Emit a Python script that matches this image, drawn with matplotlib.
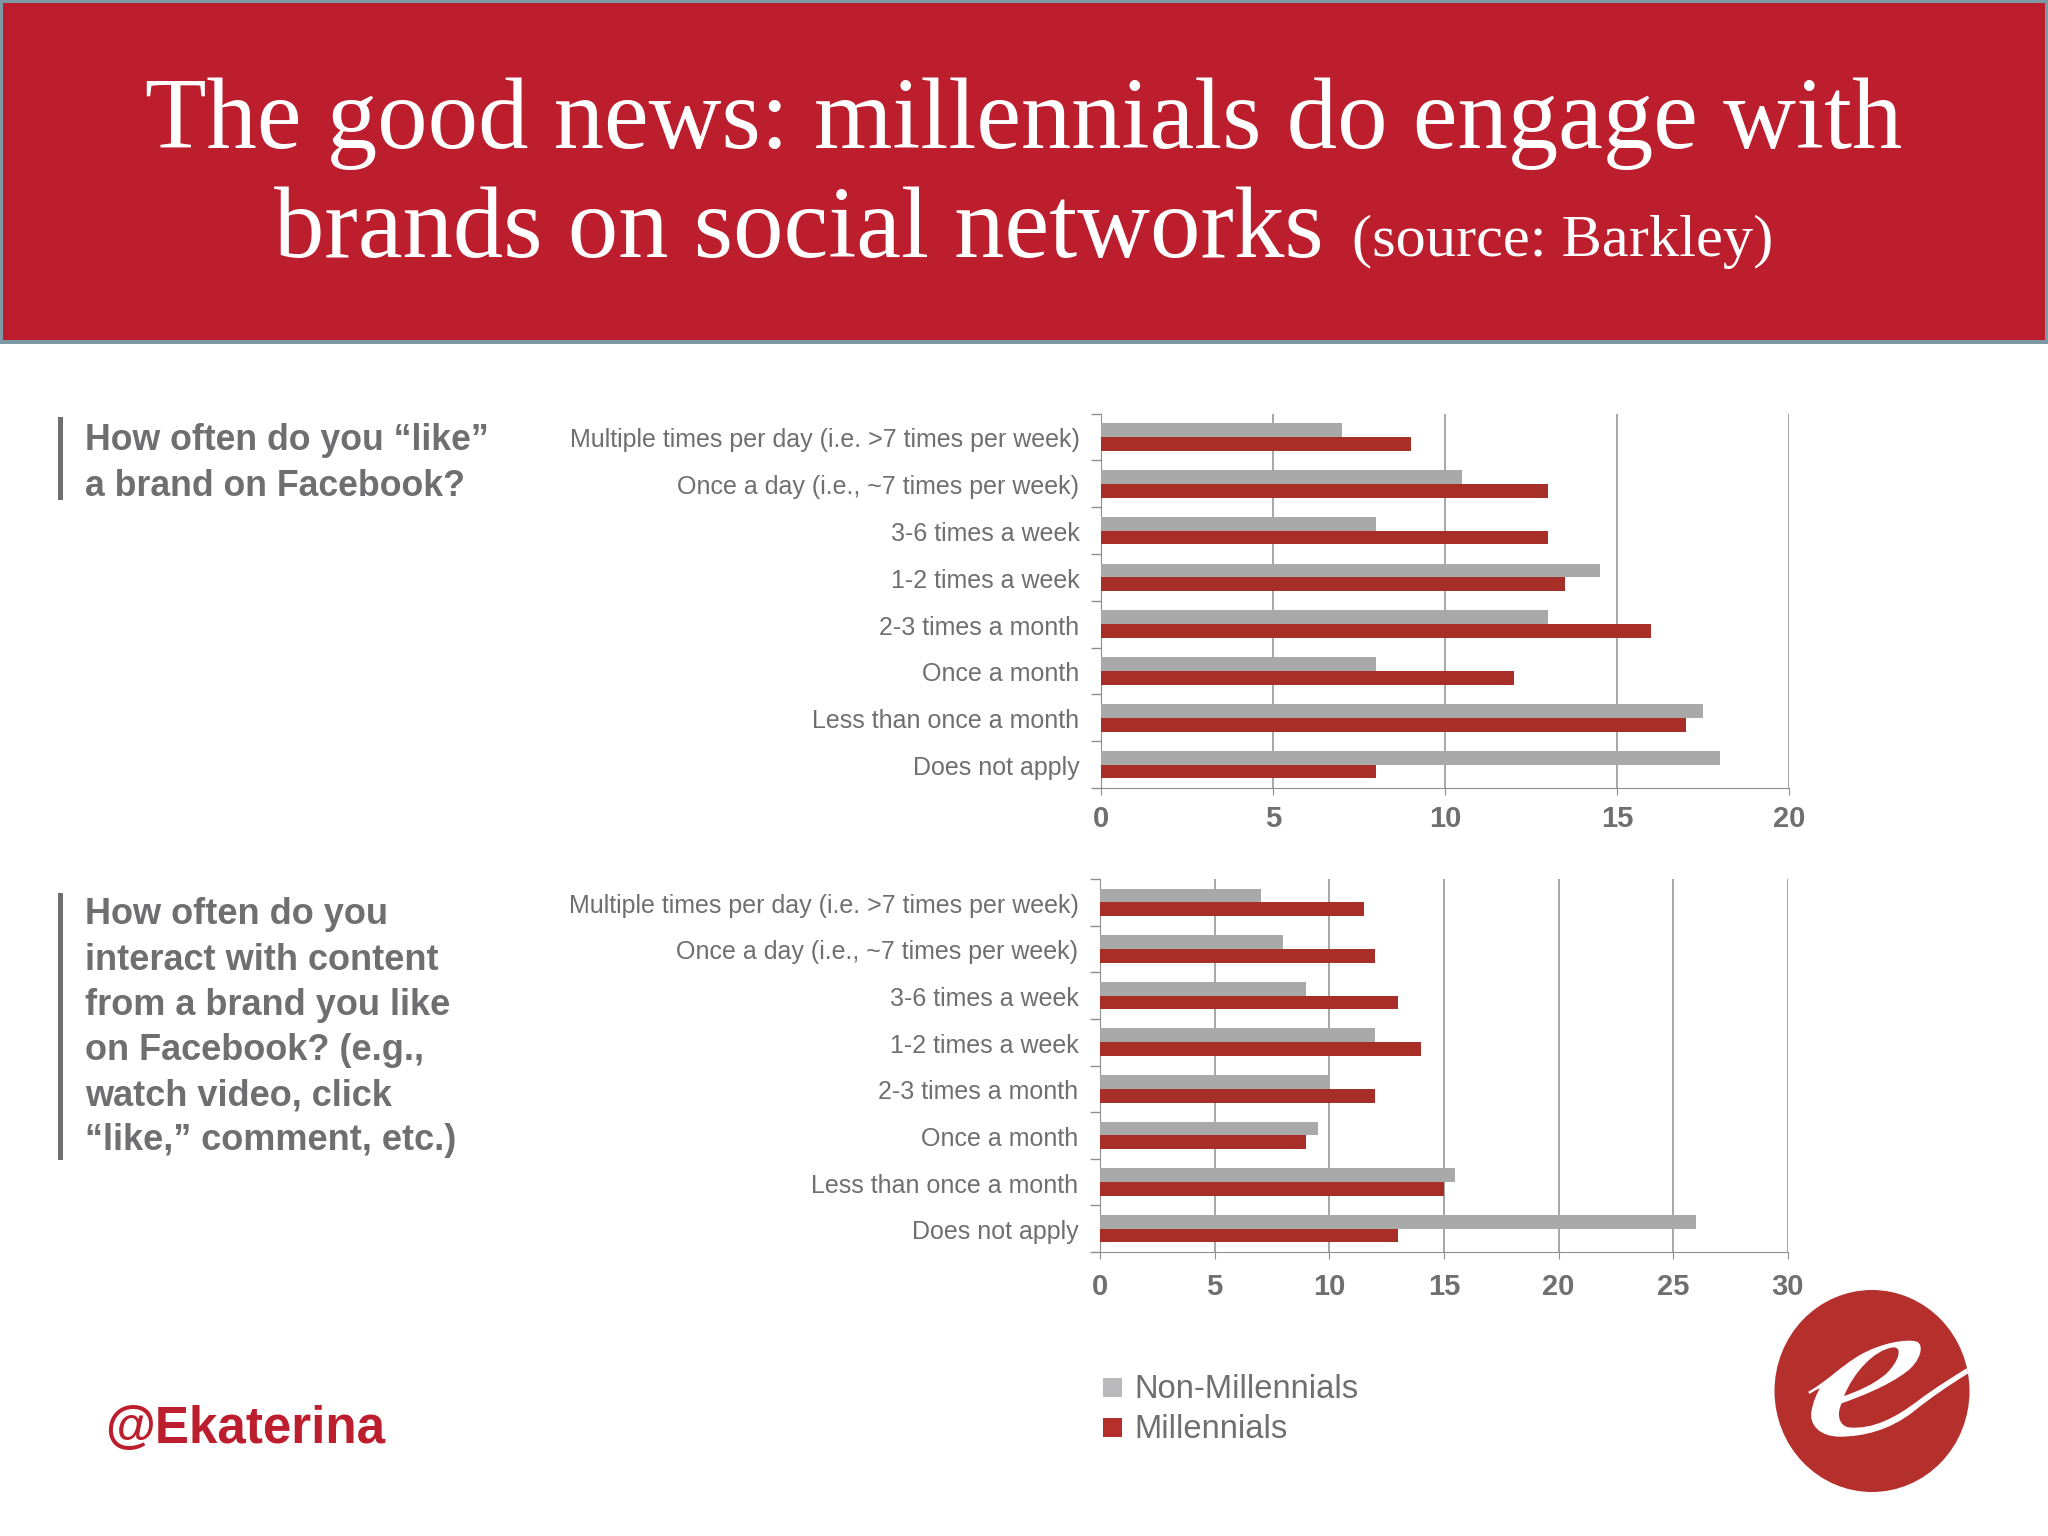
import matplotlib
matplotlib.use("Agg")
import matplotlib.pyplot as plt
from matplotlib.patches import Ellipse, PathPatch, Rectangle
from matplotlib.path import Path
from matplotlib.transforms import ScaledTranslation
import numpy as np

W, H = 2048, 1536

frequency = [
    "Multiple times per day (i.e. >7 times per week)",
    "Once a day (i.e., ~7 times per week)",
    "3-6 times a week",
    "1-2 times a week",
    "2-3 times a month",
    "Once a month",
    "Less than once a month",
    "Does not apply",
]
like_non = [7, 10.5, 8, 14.5, 13, 8, 17.5, 18]
like_mil = [9, 13, 13, 13.5, 16, 12, 17, 8]
interact_non = [7, 8, 9, 12, 10, 9.5, 15.5, 26]
interact_mil = [11.5, 12, 13, 14, 12, 9, 15, 13]
like_ticks = [0, 5, 10, 15, 20]
interact_ticks = [0, 5, 10, 15, 20, 25, 30]

RED = "#bd1e2d"
BAR_RED = "#a82e28"
BAR_GREY = "#a9a9a9"
LOGO_RED = "#b5302d"
TXT = "#6f6f72"
AXIS = "#8f8f8f"


def px_axes(fig, x0, y0, x1, y1):
    # pixel box, y measured from the top of the image
    return fig.add_axes([x0 / W, 1 - y1 / H, (x1 - x0) / W, (y1 - y0) / H])


def bar_panel(fig, box, non, mil, ticks, xpad):
    ax = px_axes(fig, *box)
    y = np.arange(len(frequency))
    h = 0.295
    ax.barh(y - h / 2, non, height=h, color=BAR_GREY, zorder=3)
    ax.barh(y + h / 2, mil, height=h, color=BAR_RED, zorder=3)
    ax.set_ylim(len(frequency) - 0.5, -0.5)
    ax.set_xlim(ticks[0], ticks[-1])
    ax.set_xticks(ticks)
    ax.set_xticklabels(ticks, fontsize=21, color=TXT, family="Liberation Sans", fontweight="bold")
    ax.set_yticks(y)
    ax.set_yticklabels(frequency, fontsize=18, color=TXT, family="Liberation Sans")
    ax.set_yticks(np.arange(-0.5, len(frequency) + 0.5), minor=True)
    ax.tick_params(axis="y", which="major", length=0, pad=15.5)
    ax.tick_params(axis="y", which="minor", length=7, color=AXIS, width=1)
    ax.tick_params(axis="x", length=5, color=AXIS, pad=xpad)
    ax.grid(axis="x", color=AXIS, lw=1.1, zorder=1)
    for side in ["top", "right"]:
        ax.spines[side].set_visible(False)
    ax.spines["left"].set_color(AXIS)
    ax.spines["bottom"].set_color(AXIS)
    ax.patch.set_alpha(0)
    # labels sit a touch below the band centre
    nudge = ScaledTranslation(0, -1 / 100, fig.dpi_scale_trans)
    for lab in ax.get_yticklabels():
        lab.set_transform(lab.get_transform() + nudge)
    return ax


def logo_path(points, codes):
    # points traced on a 3x crop of the logo, origin at (1740, 1270)
    pts = [(1740 + u / 3, 1270 + v / 3) for u, v in points]
    return Path(pts, codes)


fig = plt.figure(figsize=(W / 100, H / 100), dpi=100, facecolor="white")

# overlay in image pixels for banner, side notes, legend and logo
bg = fig.add_axes([0, 0, 1, 1])
bg.set_xlim(0, W)
bg.set_ylim(H, 0)
bg.axis("off")
bg.add_patch(Rectangle((0, 0), W, 344, color="#7d9aa5", lw=0))
bg.add_patch(Rectangle((3, 3), W - 6, 337, color=RED, lw=0))

bg.text(W / 2 + 0, 124, "The good news: millennials do engage with", color="white",
        fontsize=72.5, family="Liberation Serif", ha="center", va="center")
bg.text(274, 233, "brands on social networks", color="white",
        fontsize=72.5, family="Liberation Serif", ha="left", va="center")
bg.text(1352, 242, "(source: Barkley)", color="white", fontsize=43.5,
        family="Liberation Serif", ha="left", va="center")

# question notes
bg.add_patch(Rectangle((58, 417), 5, 83, color=TXT, lw=0))
bg.add_patch(Rectangle((58, 893), 5, 267, color=TXT, lw=0))
for i, line in enumerate(["How often do you \u201clike\u201d", "a brand on Facebook?"]):
    bg.text(85, 441 + i * 45.5, line, color=TXT, fontsize=25.7, fontweight="bold",
            family="Liberation Sans", va="center")
note = [
    "How often do you",
    "interact with content",
    "from a brand you like",
    "on Facebook? (e.g.,",
    "watch video, click",
    "\u201clike,\u201d comment, etc.)",
]
for i, line in enumerate(note):
    bg.text(85, 915 + i * 45.2, line, color=TXT, fontsize=26, fontweight="bold",
            family="Liberation Sans", va="center")

bg.text(105, 1430, "@Ekaterina", color=RED, fontsize=36.8, fontweight="bold",
        family="Liberation Sans", va="center")

# legend
bg.add_patch(Rectangle((1103, 1378), 19, 19, color="#b9b9bb", lw=0))
bg.add_patch(Rectangle((1103, 1418), 19, 19, color="#b5302b", lw=0))
bg.text(1134, 1390, "Non-Millennials", color=TXT, fontsize=23.6, family="Liberation Sans", va="center")
bg.text(1134, 1430, "Millennials", color=TXT, fontsize=23.6, family="Liberation Sans", va="center")

# logo
bg.add_patch(Ellipse((1872, 1391), 195, 202, color=LOGO_RED, lw=0))
M, L, C, Z = Path.MOVETO, Path.LINETO, Path.CURVE4, Path.CLOSEPOLY
outer = [
    (205, 365), (260, 335), (300, 290), (360, 255), (420, 220), (500, 205), (530, 215),
    (555, 225), (540, 275), (500, 305), (440, 350), (360, 380), (305, 400),
    (290, 430), (295, 465), (325, 472), (400, 480), (470, 440), (530, 395),
    (590, 350), (640, 320), (680, 295), (685, 310), (620, 350), (570, 385), (520, 425),
    (450, 480), (370, 500), (300, 500), (240, 500), (205, 465), (215, 420),
    (220, 395), (230, 370), (240, 355), (225, 360), (215, 368), (208, 372), (205, 365),
]
outer_codes = [M] + [C] * 21 + [L] + [C] * 15 + [Z]
eye = [
    (312, 378), (340, 310), (400, 240), (460, 232), (490, 232), (475, 275), (440, 310),
    (400, 345), (350, 365), (312, 378), (312, 378),
]
eye_codes = [M] + [C] * 9 + [Z]
bg.add_patch(PathPatch(logo_path(outer, outer_codes), facecolor="white", lw=0))
bg.add_patch(PathPatch(logo_path(eye, eye_codes), facecolor=LOGO_RED, lw=0))

bar_panel(fig, (1101, 413.5, 1789, 788), like_non, like_mil, like_ticks, 7.4)
bar_panel(fig, (1100, 879, 1788, 1252), interact_non, interact_mil, interact_ticks, 10.4)

fig.savefig("out.png", dpi=100)
